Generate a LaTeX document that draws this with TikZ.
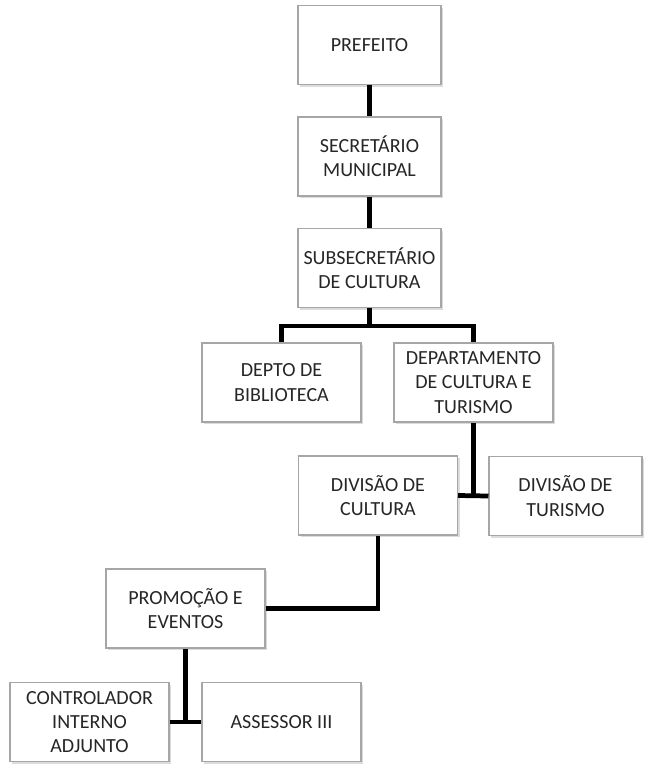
\documentclass[tikz,border=0pt]{standalone}
\usepackage{fontspec}
\setmainfont{Carlito}
\usetikzlibrary{shadows}
\tikzset{my box/.style={draw=gray!70, line width=0.6pt, fill=white, align=center, inner sep=1pt,
    minimum width=3.18cm, minimum height=1.58cm, text=black!85,
    font=\fontsize{11.4}{13.8}\selectfont,
    drop shadow={shadow xshift=1.4pt, shadow yshift=-1.4pt, fill=gray!60, opacity=0.45}},
  my top box/.style={my box, minimum width=2.86cm},
  my link/.style={line width=2.7pt, black},}

\begin{document}
\begin{tikzpicture}[x={(0.02cm,0)}, y={(0,-0.02cm)}]
\useasboundingbox (0,0) rectangle (647,765);
\node [my top box] (pref) at (369.5, 45.0) {PREFEITO};
\node [my top box] (sec)  at (369.5,156.5) {SECRETÁRIO\\MUNICIPAL};
\node [my top box] (sub)  at (369.5,268.0) {SUBSECRETÁRIO\\DE CULTURA};
\node [my box] (bib)  at (281.5,382.5) {DEPTO DE\\BIBLIOTECA};
\node [my box] (dep)  at (473.5,382.5) {DEPARTAMENTO\\DE CULTURA E\\TURISMO};
\node [my box] (divc) at (378.0,495.5) {DIVISÃO DE\\CULTURA};
\node [my box, minimum width=3.06cm] (divt) at (565.5,496.0) {DIVISÃO DE\\TURISMO};
\node [my box] (prom) at (185.5,608.5) {PROMOÇÃO E\\EVENTOS};
\node [my box] (ctrl) at ( 89.5,722.0) {CONTROLADOR\\INTERNO\\ADJUNTO};
\node [my box] (ass)  at (281.5,722.0) {ASSESSOR III};

\draw [my link] (pref) -- (sec);
\draw [my link] (sec) -- (sub);
\draw [my link] (sub.south) -- ++(0,18) coordinate (split);
\draw [my link] (split) -| (bib.north);
\draw [my link] (split) -| (dep.north);
\draw [my link] (dep.south) -- (dep.south |- divc.east);
\draw [my link] (divc.east) -- (divt.west);
\draw [my link] (divc.south) |- (prom.east);
\draw [my link] (prom.south) -- (prom.south |- ctrl.east);
\draw [my link] (ctrl.east) -- (ass.west);
\end{tikzpicture}
\end{document}
